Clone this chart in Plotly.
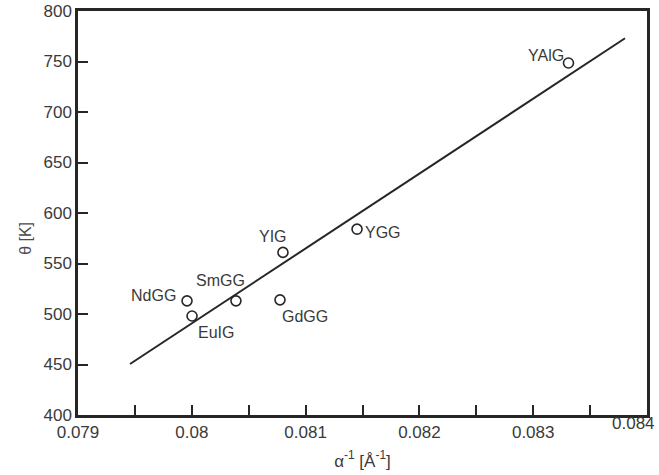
import plotly.graph_objects as go

# Data
names = ["YAlG", "YGG", "YIG", "SmGG", "NdGG", "EuIG", "GdGG"]
inv_a = [0.08331, 0.081452, 0.080801, 0.080388, 0.079958, 0.080002, 0.080775]
theta = [748.5, 584, 561, 513, 513, 498, 514]

fit_x = [0.079457, 0.083807]
fit_y = [450.5, 773]

x_ticks = [0.079, 0.080, 0.081, 0.082, 0.083, 0.084]
x_ticktext = ["0.079", "0.08", "0.081", "0.082", "0.083", ""]
last_x_label = "0.084"
y_ticks = [400, 450, 500, 550, 600, 650, 700, 750, 800]
y_title = "θ [K]"
x_title = "α<sup>-1</sup> [Å<sup>-1</sup>]"

# label placement (xanchor, yanchor, xshift, yshift) in pixels
label_style = {
    "YAlG": ("right", "middle", -2, 8),
    "YGG": ("left", "middle", 6, -3),
    "YIG": ("right", "bottom", 6, 5),
    "SmGG": ("right", "bottom", 11, 10),
    "NdGG": ("right", "middle", -9, 5),
    "EuIG": ("left", "top", 4, -6),
    "GdGG": ("left", "top", 0, -6),
}

ink = "#262626"
txt = "#3a3a3a"
font_family = "Liberation Sans, Arial, sans-serif"

fig = go.Figure()
fig.add_trace(go.Scatter(x=fit_x, y=fit_y, mode="lines",
                         line=dict(color=ink, width=2), showlegend=False,
                         hoverinfo="skip"))
fig.add_trace(go.Scatter(x=inv_a, y=theta, mode="markers",
                         marker=dict(symbol="circle-open", size=10,
                                     color=ink, line=dict(width=1.6, color=ink)),
                         showlegend=False, text=names))

for n, xv, yv in zip(names, inv_a, theta):
    xa, ya, xs, ys = label_style[n]
    fig.add_annotation(x=xv, y=yv, text=n, showarrow=False,
                       xanchor=xa, yanchor=ya, xshift=xs, yshift=ys,
                       font=dict(size=16, color=txt, family=font_family))

fig.add_annotation(x=x_ticks[-1], y=0, xref="x", yref="paper", text=last_x_label,
                   showarrow=False, xanchor="right", yanchor="top",
                   xshift=10, yshift=3,
                   font=dict(size=17, color=txt, family=font_family))

# y-axis title, placed slightly below the axis centre as in the reference
fig.add_annotation(x=0, y=0.436, xref="paper", yref="paper", text=y_title,
                   showarrow=False, textangle=-90, xanchor="center", yanchor="middle",
                   xshift=-52,
                   font=dict(size=16, color="#4a4a4a", family=font_family))

fig.update_layout(
    width=659, height=475,
    margin=dict(l=78, r=12, t=11, b=60),
    paper_bgcolor="white", plot_bgcolor="white",
    font=dict(family=font_family, color=txt, size=16),
)
fig.update_xaxes(
    range=[0.079, 0.084], tickvals=x_ticks, ticktext=x_ticktext,
    ticks="inside", ticklen=10, tickwidth=1.5, tickcolor=ink,
    minor=dict(dtick=0.0005, tick0=0.079, ticks="inside", ticklen=10,
               tickwidth=1.5, tickcolor=ink),
    showline=True, linecolor=ink, linewidth=2.5, mirror=True,
    showgrid=False, zeroline=False, automargin=False,
    tickfont=dict(size=17, color=txt),
    title=dict(text=x_title, font=dict(size=17, color=txt), standoff=14),
)
fig.update_yaxes(
    range=[400, 800], tickvals=y_ticks,
    ticks="inside", ticklen=10, tickwidth=1.5, tickcolor=ink,
    showline=True, linecolor=ink, linewidth=2.5, mirror=True,
    showgrid=False, zeroline=False, automargin=False,
    tickfont=dict(size=17, color=txt),
)

fig.write_html("out.html")
